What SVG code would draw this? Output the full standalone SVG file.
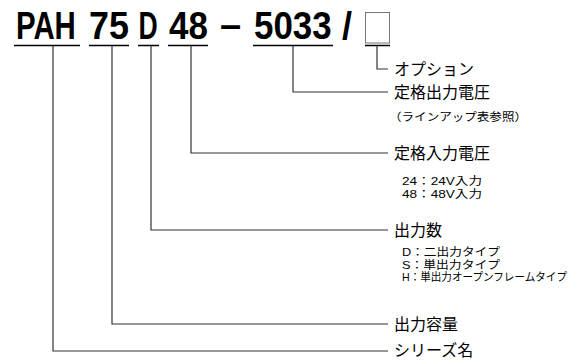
<svg xmlns="http://www.w3.org/2000/svg" width="586" height="360" viewBox="0 0 586 360">
<style>
.code{font-family:"Liberation Sans",Arial,sans-serif;font-weight:bold;font-size:38px;fill:#000}
.ul{stroke:#000;stroke-width:1.6;fill:none}
.con{stroke:#333;stroke-width:1.2;fill:none}
.lbl{font-family:"Noto Sans CJK JP",sans-serif;font-size:16px;fill:#000}
.sub{font-family:"Liberation Sans","Noto Sans CJK JP",sans-serif;font-size:11px;fill:#000}
</style>
<rect width="586" height="360" fill="#fff"/>
<g id="code">
<text class="code" transform="translate(16,39) scale(0.773,1)">PAH</text>
<text class="code" transform="translate(89,39) scale(0.946,1)">75</text>
<text class="code" transform="translate(138.5,39) scale(0.7,1)">D</text>
<text class="code" transform="translate(169,39) scale(0.92,1)">48</text>
<text class="code" transform="translate(220,38)">–</text>
<text class="code" transform="translate(254,39) scale(0.92,1)">5033</text>
<text class="code" transform="translate(342,39) scale(0.95,1)">/</text>
<rect x="365.5" y="12.5" width="24" height="30.5" fill="none" stroke="#777" stroke-width="1"/>
<path class="ul" d="M14 45.5H80M89 45.5H129M138 45.5H159M168 45.5H208M253 45.5H333M365 45.5H390"/>
</g>
<g id="connectors">
<path class="con" d="M53 46V351H388"/>
<path class="con" d="M112 46V324H388"/>
<path class="con" d="M151 46V230H388"/>
<path class="con" d="M191 46V153H388"/>
<path class="con" d="M293 46V92H388"/>
<path class="con" d="M377 46V69H388"/>
</g>
<g id="option"><text class="lbl" x="394" y="75">オプション</text></g>
<g id="output-voltage">
<text class="lbl" x="394" y="98">定格出力電圧</text>
<text class="sub" x="389" y="121" textLength="138" lengthAdjust="spacingAndGlyphs">（ラインアップ表参照）</text>
</g>
<g id="input-voltage">
<text class="lbl" x="394" y="159">定格入力電圧</text>
<text class="sub" x="402" y="185" textLength="80" lengthAdjust="spacingAndGlyphs">24：24V入力</text>
<text class="sub" x="402" y="198" textLength="80" lengthAdjust="spacingAndGlyphs">48：48V入力</text>
</g>
<g id="outputs">
<text class="lbl" x="394" y="236">出力数</text>
<text class="sub" x="402" y="256" textLength="98" lengthAdjust="spacingAndGlyphs">D：二出力タイプ</text>
<text class="sub" x="402" y="268.5" textLength="98" lengthAdjust="spacingAndGlyphs">S：単出力タイプ</text>
<text class="sub" x="402" y="281" textLength="165" lengthAdjust="spacingAndGlyphs">H：単出力オープンフレームタイプ</text>
</g>
<g id="capacity"><text class="lbl" x="394" y="330">出力容量</text></g>
<g id="series"><text class="lbl" x="394" y="355.5">シリーズ名</text></g>
</svg>
